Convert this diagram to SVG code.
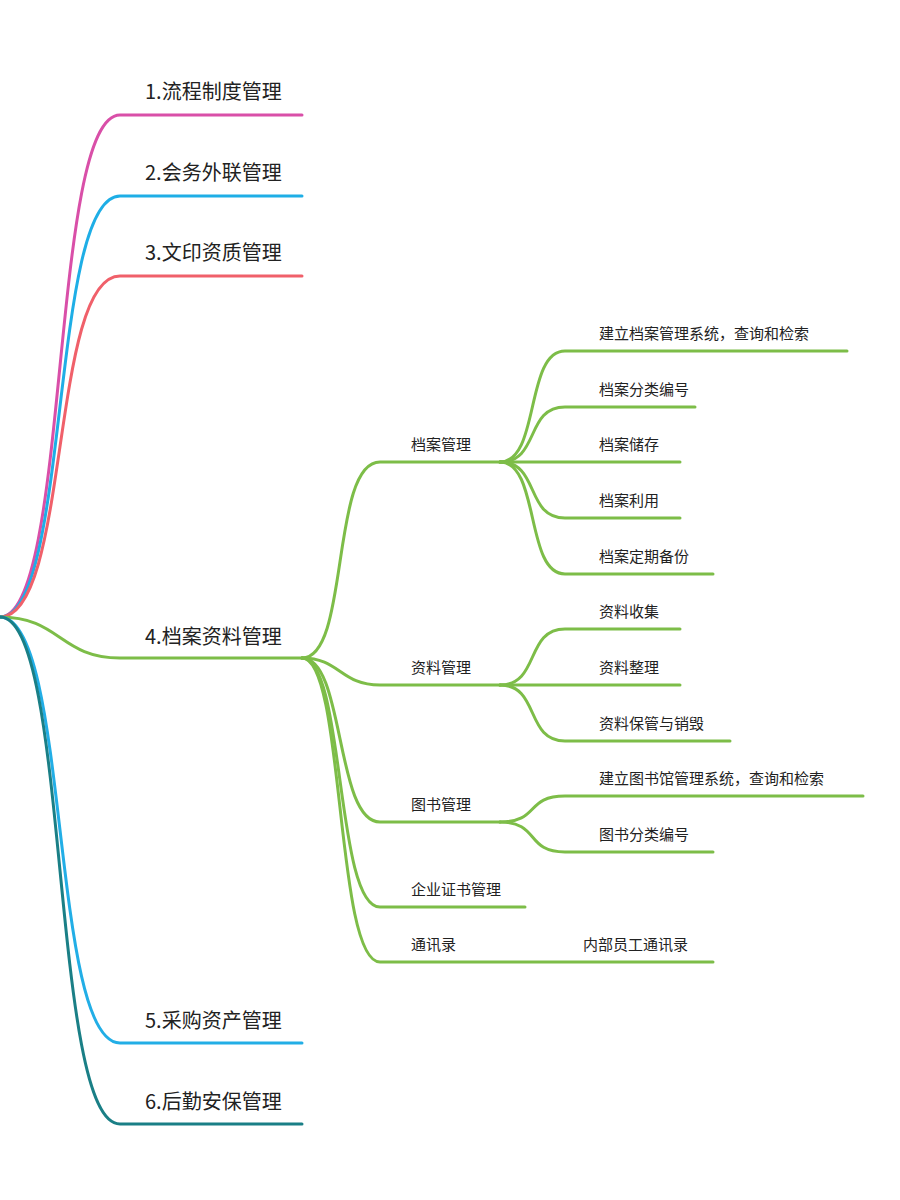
<svg xmlns="http://www.w3.org/2000/svg" width="900" height="1200" viewBox="0 0 900 1200">
<style>
path{fill:none;stroke-width:3;stroke-linecap:round}
.g{stroke:#7dbd48}
text{font-family:"Noto Sans CJK SC","Noto Sans",sans-serif;fill:#222}
.l1{font-size:20px}
.l2{font-size:15px}
</style>
<rect width="900" height="1200" fill="#fff"/>
<g id="connectors">
<path d="M0,617 C70,617 50,115 120,115 H302" stroke="#d94fa8"/>
<path d="M0,617 C70,617 50,196 120,196 H302" stroke="#1eaee6"/>
<path d="M0,617 C70,617 50,276 120,276 H302" stroke="#f0606a"/>
<path d="M0,617 C60,617 60,658 120,658 H302" class="g"/>
<path d="M0,617 C70,617 50,1043 120,1043 H302" stroke="#22aee6"/>
<path d="M0,617 C70,617 50,1124 120,1124 H302" stroke="#1a7f86"/>
<path d="M302,658 C350,658 330,462 380,462 H500" class="g"/>
<path d="M302,658 C340,658 340,685 380,685 H500" class="g"/>
<path d="M302,658 C345,658 335,822 380,822 H500" class="g"/>
<path d="M302,658 C345,658 335,907 380,907 H525" class="g"/>
<path d="M302,658 C345,658 335,962 380,962 H713" class="g"/>
<path d="M500,462 C540,462 525,351 565,351 H847" class="g"/>
<path d="M500,462 C540,462 525,407 565,407 H695" class="g"/>
<path d="M500,462 H680" class="g"/>
<path d="M500,462 C540,462 525,518 565,518 H680" class="g"/>
<path d="M500,462 C540,462 525,574 565,574 H713" class="g"/>
<path d="M500,685 C540,685 525,629 565,629 H680" class="g"/>
<path d="M500,685 H680" class="g"/>
<path d="M500,685 C540,685 525,741 565,741 H730" class="g"/>
<path d="M500,822 C540,822 525,796 565,796 H863" class="g"/>
<path d="M500,822 C540,822 525,852 565,852 H713" class="g"/>
</g>
<g id="n1"><text class="l1" x="145" y="99">1.流程制度管理</text></g>
<g id="n2"><text class="l1" x="145" y="180">2.会务外联管理</text></g>
<g id="n3"><text class="l1" x="145" y="260">3.文印资质管理</text></g>
<g id="n4"><text class="l1" x="145" y="644">4.档案资料管理</text></g>
<g id="n5"><text class="l1" x="145" y="1028">5.采购资产管理</text></g>
<g id="n6"><text class="l1" x="145" y="1109">6.后勤安保管理</text></g>
<g id="n41"><text class="l2" x="411" y="450">档案管理</text></g>
<g id="n42"><text class="l2" x="411" y="673">资料管理</text></g>
<g id="n43"><text class="l2" x="411" y="810">图书管理</text></g>
<g id="n44"><text class="l2" x="411" y="895">企业证书管理</text></g>
<g id="n45"><text class="l2" x="411" y="950">通讯录</text></g>
<g id="n411"><text class="l2" x="599" y="339">建立档案管理系统，查询和检索</text></g>
<g id="n412"><text class="l2" x="599" y="395">档案分类编号</text></g>
<g id="n413"><text class="l2" x="599" y="450">档案储存</text></g>
<g id="n414"><text class="l2" x="599" y="506">档案利用</text></g>
<g id="n415"><text class="l2" x="599" y="562">档案定期备份</text></g>
<g id="n421"><text class="l2" x="599" y="617">资料收集</text></g>
<g id="n422"><text class="l2" x="599" y="673">资料整理</text></g>
<g id="n423"><text class="l2" x="599" y="729">资料保管与销毁</text></g>
<g id="n431"><text class="l2" x="599" y="784">建立图书馆管理系统，查询和检索</text></g>
<g id="n432"><text class="l2" x="599" y="840">图书分类编号</text></g>
<g id="n451"><text class="l2" x="583" y="950">内部员工通讯录</text></g>
</svg>
